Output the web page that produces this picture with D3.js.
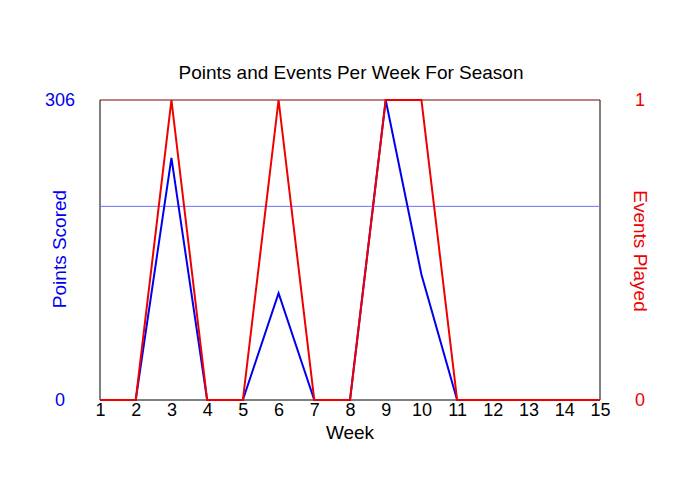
<!DOCTYPE html>
<html>
<head>
<meta charset="utf-8">
<script src="https://cdn.jsdelivr.net/npm/d3@7"></script>
<style>
body{margin:0;background:#fff;}
text{font-family:"Liberation Sans",Arial,sans-serif;}
</style>
</head>
<body>
<svg id="chart" width="700" height="500"></svg>
<script>
const weeks = [1,2,3,4,5,6,7,8,9,10,11,12,13,14,15];
const points = [0,0,247,0,0,109,0,0,306,128,0,0,0,0,0];
const events = [0,0,1,0,0,1,0,0,1,1,0,0,0,0,0];
const leftTicks = [0,306];
const rightTicks = [0,1];
const title = "Points and Events Per Week For Season";

const played = points.filter((p,i)=>events[i]>0);
const avgPoints = d3.mean(played);

const svg = d3.select("#chart");
const m = {l:100,r:100,t:100,b:100};
const W = 700, H = 500;
const x = d3.scaleLinear().domain([1,15]).range([m.l, W-m.r]);
const yL = d3.scaleLinear().domain([0,306]).range([H-m.b, m.t]);
const yR = d3.scaleLinear().domain([0,1]).range([H-m.b, m.t]);

svg.append("rect").attr("width",W).attr("height",H).attr("fill","#fff");

// frame
svg.append("line").attr("x1",m.l).attr("x2",m.l).attr("y1",m.t).attr("y2",H-m.b).attr("stroke","#000");
svg.append("line").attr("x1",W-m.r).attr("x2",W-m.r).attr("y1",m.t).attr("y2",H-m.b).attr("stroke","#000");
svg.append("line").attr("x1",m.l).attr("x2",W-m.r).attr("y1",H-m.b).attr("y2",H-m.b).attr("stroke","#000");
svg.append("line").attr("x1",m.l).attr("x2",W-m.r).attr("y1",m.t).attr("y2",m.t).attr("stroke","#800000");

// average line
svg.append("line").attr("x1",m.l).attr("x2",W-m.r)
  .attr("y1",yL(avgPoints)).attr("y2",yL(avgPoints))
  .attr("stroke","#7070ff").attr("stroke-width",1);

const FF = "Liberation Sans, Arial, sans-serif";
// x axis labels
const xAxis = d3.axisBottom(x).tickValues(weeks).tickFormat(d3.format("d")).tickSize(0).tickPadding(3);
const gx = svg.append("g").attr("transform",`translate(0,${H-m.b})`).call(xAxis);
gx.select(".domain").remove();
gx.selectAll("text").attr("font-size",18).attr("fill","#000").attr("font-family",FF);

// left axis labels
const gl = svg.append("g").attr("transform",`translate(${m.l},0)`)
  .call(d3.axisLeft(yL).tickValues(leftTicks).tickFormat(d3.format("d")).tickSize(0).tickPadding(0));
gl.select(".domain").remove();
gl.selectAll("text").attr("font-size",18).attr("fill","#0000ee").attr("font-family",FF)
  .attr("text-anchor","middle").attr("x",-40);

// right axis labels
const gr = svg.append("g").attr("transform",`translate(${W-m.r},0)`)
  .call(d3.axisRight(yR).tickValues(rightTicks).tickFormat(d3.format("d")).tickSize(0).tickPadding(0));
gr.select(".domain").remove();
gr.selectAll("text").attr("font-size",18).attr("fill","#ee0000").attr("font-family",FF)
  .attr("text-anchor","middle").attr("x",40);

// lines
const lineL = d3.line().x((d,i)=>x(weeks[i])).y(d=>yL(d));
const lineR = d3.line().x((d,i)=>x(weeks[i])).y(d=>yR(d));
svg.append("path").datum(points).attr("d",lineL).attr("fill","none").attr("stroke","#0000ee").attr("stroke-width",2);
svg.append("path").datum(events).attr("d",lineR).attr("fill","none").attr("stroke","#ee0000").attr("stroke-width",2);

// titles
svg.append("text").attr("x",351).attr("y",79).attr("text-anchor","middle").attr("font-size",19).attr("fill","#000").text(title);
svg.append("text").attr("x",350).attr("y",439).attr("text-anchor","middle").attr("font-size",19).attr("fill","#000").text("Week");
svg.append("text").attr("transform","translate(66,249) rotate(-90)").attr("text-anchor","middle").attr("font-size",19).attr("fill","#0000ee").text("Points Scored");
svg.append("text").attr("transform","translate(634,251) rotate(90)").attr("text-anchor","middle").attr("font-size",19).attr("fill","#ee0000").text("Events Played");
</script>
</body>
</html>
